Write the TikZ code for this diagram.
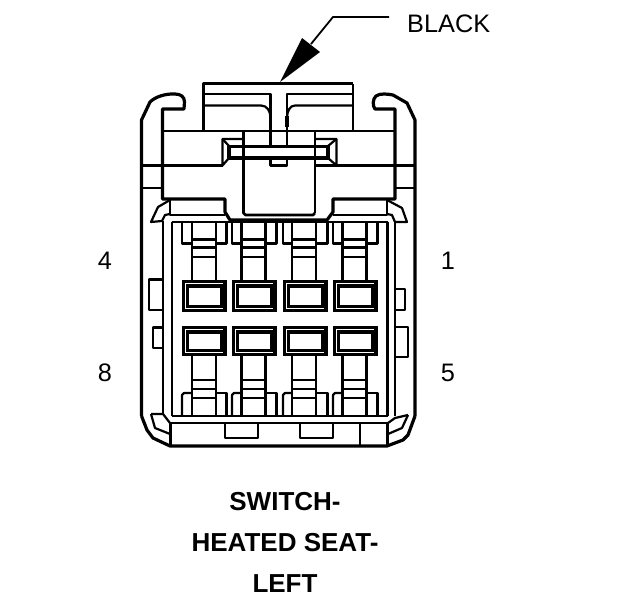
\documentclass[tikz,border=0pt]{standalone}
\usepackage{fontspec}
\setmainfont{Liberation Sans}
\tikzset{
  mid line/.style={line width=2.2pt,line join=round},
  heavy line/.style={line width=2.8pt,line join=round},
  thick line/.style={line width=3.2pt,line join=round},
  lab/.style={font=\fontsize{25.3}{25.3}\selectfont,inner sep=0pt},
  captiontext/.style={font=\fontsize{26}{26}\selectfont\bfseries,inner sep=0pt}
}
\begin{document}
\begin{tikzpicture}[x=1pt,y=-1pt]
\useasboundingbox (0,0) rectangle (624,600);
% housing
\draw[thick line] (141.5,416) -- (141.5,120) -- (150,102) .. controls (155,97) and (165,93.5) .. (175,94) .. controls (181,94) and (184.5,97) .. (184.5,102) -- (184,109) -- (162.5,109) -- (162.5,199) -- (225,199) -- (225,212) -- (230,220) -- (327,220) -- (333,212) -- (333,199) -- (395,199) -- (395,109) -- (375,109) .. controls (372.5,106) and (372.5,99) .. (376,96) .. controls (380,93) and (388,94) .. (393,95) -- (407,103) -- (415,120) -- (415,416);
\draw[thick line] (141.5,416) -- (147,430) -- (153,438) -- (170,446) -- (387,446) -- (403,440) -- (408,435) -- (415,416);
% top block
\draw[heavy line] (203.5,131) -- (203.5,83.5) -- (353,83.5);
\draw[mid line] (353,83.5) -- (353,131);
\draw[mid line] (203.5,94) -- (270.5,94) -- (270.5,146);
\draw[mid line] (203.5,105.5) -- (261,105.5) .. controls (267,105.5) and (270.5,111) .. (270.5,118);
\draw[thick line] (270.5,116) -- (270.5,127);
\draw[mid line] (353,94) -- (287,94) -- (287,146);
\draw[mid line] (353,105.5) -- (295,105.5) .. controls (290,105.5) and (287,111) .. (287,118);
\draw[thick line] (287,116) -- (287,127);
\draw[heavy line] (162,131) -- (395,131);
\draw[heavy line] (141,165.5) -- (223,165.5);
\draw[heavy line] (315,165.5) -- (415,165.5);
\draw[mid line] (141,188) -- (162,188);
\draw[mid line] (395,188) -- (415,188);
% central latch
\draw[heavy line] (243.5,131) -- (243.5,213) -- (245.5,215) -- (313,215) -- (315,213);
\draw[mid line] (315,213) -- (315,131);
\draw[mid line] (243,139) -- (222.5,139) -- (222.5,165.5) -- (229,158);
\draw[mid line] (222.5,139) -- (229,146);
\draw[mid line] (315,139) -- (336.5,139) -- (336.5,165.5) -- (328,158);
\draw[mid line] (336.5,139) -- (328,146);
\draw[mid line] (270.5,158) -- (270.5,165.5) -- (287,165.5) -- (287,158);
\draw[thick line] (229,146.5) -- (328,146.5) -- (328,158) -- (229,158) -- cycle;
\draw[heavy line] (243.5,146) -- (243.5,158);
\draw[mid line] (315,146) -- (315,158);
% ears top
\draw[mid line] (170,200) -- (158,207) -- (151,222) -- (162,221) -- (165,215) -- (170,214);
\draw[mid line] (170,200) -- (170,215) -- (225,215);
\draw[mid line] (387,200) -- (402,208) -- (407,222) -- (395,222) -- (392,215) -- (387,214);
\draw[mid line] (387,200) -- (387,215) -- (333,215);
% inner walls
\draw[mid line] (163,221) -- (163,414);
\draw[mid line] (172,222) -- (172,416);
\draw[mid line] (387.5,416) -- (387.5,222);
\draw[mid line] (395,222) -- (395,416);
\draw[heavy line] (172,222) -- (387.5,222);
\draw[heavy line] (172,416) -- (387.5,416);
% bottom ears
\draw[mid line] (151,414) -- (155,428) -- (170,434);
\draw[mid line] (151,414) -- (163,414) -- (170,423);
\draw[mid line] (408,415) -- (402,428) -- (388,434);
\draw[mid line] (408,415) -- (395,418) -- (388,423);
% bottom rail
\draw[heavy line] (170,423) -- (387.5,423);
\draw[mid line] (170.5,422) -- (170.5,446);
\draw[mid line] (387.5,422) -- (387.5,446);
\draw[mid line] (225,422) -- (225,438) -- (258,438) -- (258,422);
\draw[mid line] (300,422) -- (300,438) -- (333,438) -- (333,422);
\draw[mid line] (360,422) -- (360,446);
% side tabs
\draw[mid line] (162,279.5) -- (149,279.5) -- (149,310) -- (162,310);
\draw[mid line] (162,327.5) -- (153,327.5) -- (153,348) -- (162,348);
\draw[mid line] (396,289) -- (405,289) -- (405,310) -- (396,310);
\draw[mid line] (396,327) -- (408,327) -- (408,357) -- (396,357);
% terminals
\foreach \bx/\sx in {182/192,232/241.5,283/292,333/342.5}{
  \pgfmathsetmacro{\bxr}{\bx+44.5}
  \pgfmathsetmacro{\sxr}{\sx+24}
  \draw[mid line] (\bx,222) -- (\bx,243.5) -- (\sx,243.5);
  \draw[mid line] (\bxr,222) -- (\bxr,243.5) -- (\sxr,243.5);
  \draw[heavy line] (\sx,222) -- (\sx,280);
  \draw[heavy line] (\sxr,222) -- (\sxr,280);
  \draw[heavy line] (\sx,239.5) -- (\sxr,239.5);
  \draw[mid line] (\sx,247.5) -- (\sxr,247.5);
  \draw[heavy line] (\sx,257) -- (\sxr,257);
  \draw[heavy line] (\sx,356) -- (\sx,416);
  \draw[heavy line] (\sxr,356) -- (\sxr,416);
  \draw[heavy line] (\sx,380) -- (\sxr,380);
  \draw[heavy line] (\sx,389) -- (\sxr,389);
  \draw[mid line] (\sx,398) -- (\sxr,398);
  \draw[mid line] (\bx,416) -- (\bx,395) -- (\bx+2,393) -- (\sx,393);
  \draw[mid line] (\bxr,416) -- (\bxr,393) -- (\sxr,393);
  \foreach \yt/\yb in {280/312,326/356}{
    \pgfmathsetmacro{\xa}{\bx+1.5}
    \pgfmathsetmacro{\xb}{\bxr-1.5}
    \pgfmathsetmacro{\ya}{\yt+1.5}
    \pgfmathsetmacro{\yc}{\yb-1.5}
    \pgfmathsetmacro{\xe}{\bx+4}
    \pgfmathsetmacro{\xf}{\bxr-4}
    \pgfmathsetmacro{\ye}{\yt+4}
    \pgfmathsetmacro{\yf}{\yb-4}
    \pgfmathsetmacro{\xg}{\bx+6.5}
    \pgfmathsetmacro{\xh}{\bxr-6.5}
    \pgfmathsetmacro{\yg}{\yt+7.5}
    \pgfmathsetmacro{\yh}{\yb-7}
    \draw[line width=3.2pt,fill=white] (\xa,\ya) rectangle (\xb,\yc);
    \fill (\xe,\ye) rectangle (\xf,\yf);
    \fill[white] (\xg,\yg) rectangle (\xh,\yh);
  }
}
% leader
\coordinate (tip) at (280,82);
\coordinate (bend) at (333,17);
\coordinate (free) at (389,17);
\draw[line width=1.8pt] (free) -- (bend) -- (311,44);
\fill (tip) -- (302,38) -- (320,52) -- cycle;
% labels
\node[lab,anchor=west] (black) at (407,23.5) {BLACK};
\node[lab] (n4) at (105,261) {4};
\node[lab] (n1) at (448,261) {1};
\node[lab] (n8) at (105,373) {8};
\node[lab] (n5) at (448,373) {5};
\node[captiontext] (c1) at (285,501.5) {SWITCH-};
\node[captiontext] (c2) at (285,542.5) {HEATED SEAT-};
\node[captiontext] (c3) at (285,583.5) {LEFT};
\end{tikzpicture}
\end{document}
